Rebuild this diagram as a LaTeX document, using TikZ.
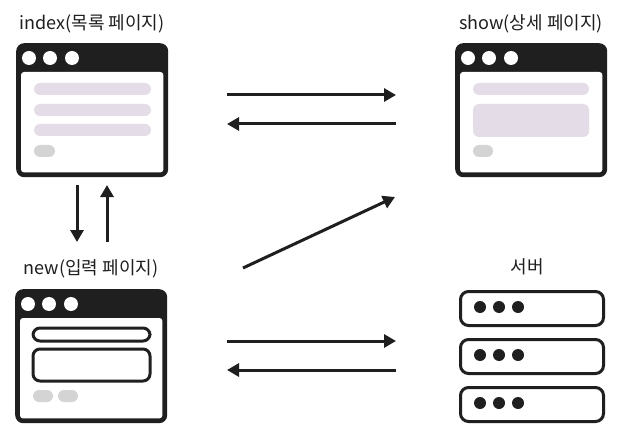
\documentclass[tikz,border=0pt]{standalone}
\usepackage{fontspec}
\setmainfont{Noto Sans CJK KR}
\usetikzlibrary{arrows.meta}
\definecolor{dark}{HTML}{1F1F1F}
\definecolor{lav}{HTML}{E4DCE7}
\definecolor{pill}{HTML}{D4D4D4}
\tikzset{
  winframe/.style={fill=dark, rounded corners=8pt, inner sep=0pt, minimum width=152pt, minimum height=134pt, anchor=north west},
  dot/.style={fill=white},
  bar/.style={fill=lav, rounded corners=6pt},
  graypill/.style={fill=pill, rounded corners=6pt},
  field/.style={draw=dark, line width=3pt, rounded corners=7pt, fill=white},
  srv/.style={draw=dark, line width=3pt, rounded corners=8pt, fill=white, inner sep=0pt, minimum width=143pt, minimum height=34pt, anchor=north west},
  sdot/.style={fill=dark},
  lbl/.style={font=\fontsize{18pt}{20pt}\selectfont, text=dark, inner sep=0pt},
  arr/.style={line width=3pt, draw=dark, -{Triangle[length=12pt,width=13pt]}},
}
\newcommand\browserwin[3]{%
  \node[winframe] (#1) at (#2,#3) {};
  \fill[white, rounded corners=3pt] ([shift={(5,29)}]#1.north west) rectangle ([shift={(-5,-5)}]#1.south east);
  \fill[dot] ([shift={(13,15)}]#1.north west) circle (7);
  \fill[dot] ([shift={(34,15)}]#1.north west) circle (7);
  \fill[dot] ([shift={(56,15)}]#1.north west) circle (7);
}
\newcommand\serverbox[3]{%
  \node[srv] (#1) at (#2,#3) {};
  \fill[sdot] ([shift={(21,17)}]#1.north west) circle (6);
  \fill[sdot] ([shift={(40,17)}]#1.north west) circle (6);
  \fill[sdot] ([shift={(59,17)}]#1.north west) circle (6);
}
\begin{document}
\begin{tikzpicture}[x=1pt,y=-1pt]
\useasboundingbox[fill=white] (0,0) rectangle (617,430);

% index window
\browserwin{index}{16}{43}
\fill[bar] ([shift={(18,40)}]index.north west) rectangle ([shift={(135,52)}]index.north west);
\fill[bar] ([shift={(18,61)}]index.north west) rectangle ([shift={(135,73)}]index.north west);
\fill[bar] ([shift={(18,81)}]index.north west) rectangle ([shift={(135,93)}]index.north west);
\fill[graypill] ([shift={(18,102)}]index.north west) rectangle ([shift={(39,114)}]index.north west);
\node[lbl] (indexlbl) at (92,24) {index(목록 페이지)};

% show window
\browserwin{show}{455}{43}
\fill[bar] ([shift={(18,40)}]show.north west) rectangle ([shift={(134,52)}]show.north west);
\fill[bar] ([shift={(18,61)}]show.north west) rectangle ([shift={(134,94)}]show.north west);
\fill[graypill] ([shift={(18,102)}]show.north west) rectangle ([shift={(38,114)}]show.north west);
\node[lbl] (showlbl) at (531,24) {show(상세 페이지)};

% new window
\browserwin{new}{15}{289}
\draw[field] ([shift={(18,39)}]new.north west) rectangle ([shift={(135,52)}]new.north west);
\draw[field] ([shift={(18,60)}]new.north west) rectangle ([shift={(135,92)}]new.north west);
\fill[graypill] ([shift={(18,101)}]new.north west) rectangle ([shift={(38,113)}]new.north west);
\fill[graypill] ([shift={(43,101)}]new.north west) rectangle ([shift={(63,113)}]new.north west);
\node[lbl] (newlbl) at (91,269) {new(입력 페이지)};

% servers
\serverbox{srvA}{459}{290}
\serverbox{srvB}{459}{338}
\serverbox{srvC}{459}{386}
\node[lbl] (srvlbl) at (527,267) {서버};

% connector end points
\coordinate (a1) at (227,95);  \coordinate (b1) at (396,95);
\coordinate (a2) at (396,124); \coordinate (b2) at (227,124);
\coordinate (a3) at (77,185);  \coordinate (b3) at (77,242);
\coordinate (a4) at (107,242); \coordinate (b4) at (107,185);
\coordinate (a5) at (243,268); \coordinate (b5) at (395,197);
\coordinate (a6) at (227,341); \coordinate (b6) at (396,341);
\coordinate (a7) at (396,370); \coordinate (b7) at (227,370);

\draw[arr] (a1) -- (b1);
\draw[arr] (a2) -- (b2);
\draw[arr] (a3) -- (b3);
\draw[arr] (a4) -- (b4);
\draw[arr] (a5) -- (b5);
\draw[arr] (a6) -- (b6);
\draw[arr] (a7) -- (b7);
\end{tikzpicture}
\end{document}
